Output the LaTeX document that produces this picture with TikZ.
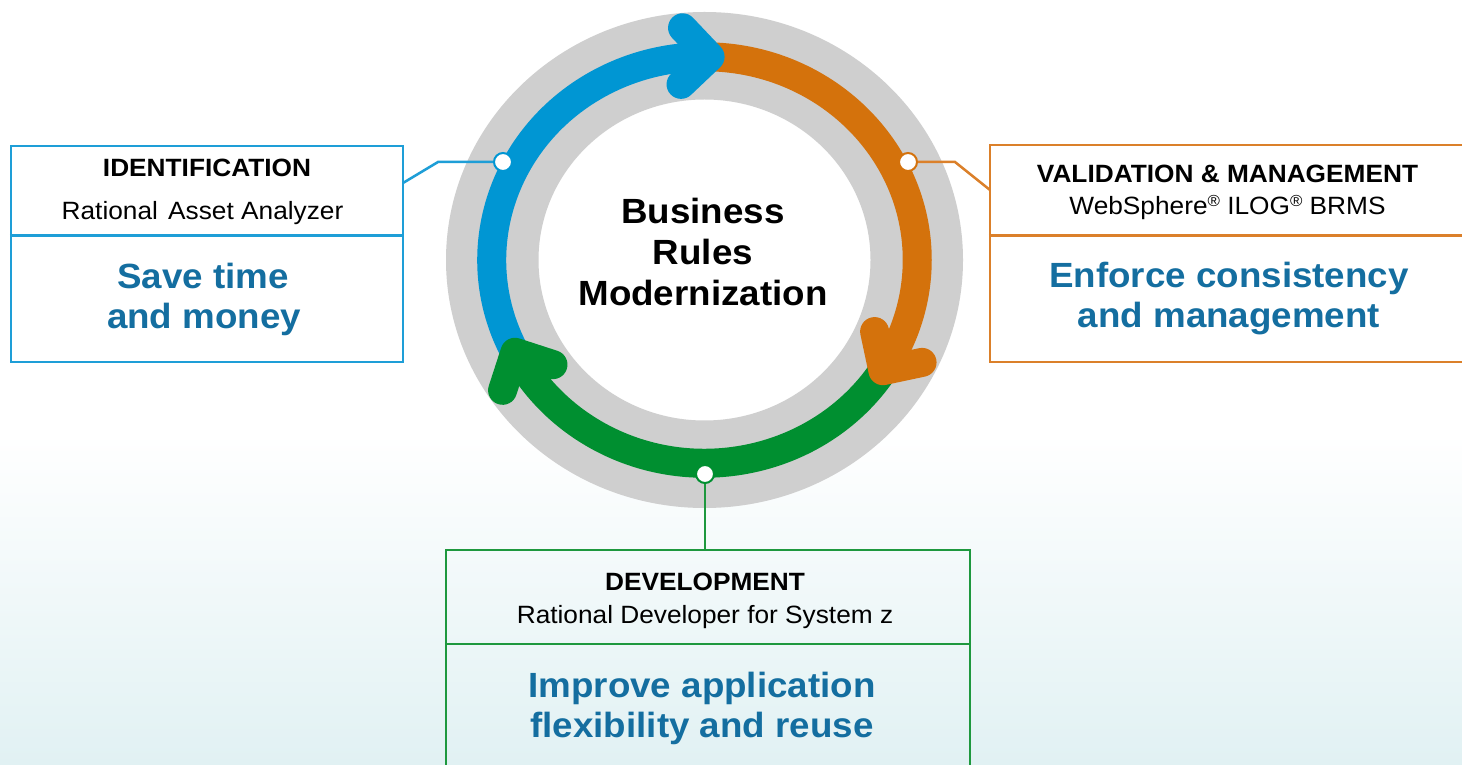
\documentclass[tikz,border=0pt]{standalone}
\usepackage{fontspec}
\setmainfont{Liberation Sans}[FakeStretch=1.05]
\usetikzlibrary{calc}
\definecolor{arcblue}{RGB}{0,150,211}
\definecolor{arcorange}{RGB}{212,114,12}
\definecolor{arcgreen}{RGB}{0,143,48}
\definecolor{ringgray}{RGB}{207,207,207}
\definecolor{txtblue}{RGB}{20,110,160}
\definecolor{lnblue}{RGB}{30,158,215}
\definecolor{lnorange}{RGB}{219,128,42}
\definecolor{lngreen}{RGB}{30,152,62}
\definecolor{bgcyan}{RGB}{225,241,243}
\newcommand\regmark{\raisebox{0.33em}{\fontsize{16}{16}\selectfont ®}}
\begin{document}
\begin{tikzpicture}[x=1pt,y=1pt,
  band/.style={line width=29pt},
  arrowhd/.style={line width=29pt, line cap=round, line join=round},
  dot/.style={circle, fill=white, draw, line width=2pt, minimum size=18pt, inner sep=0pt},
  conn/.style={line width=2.5pt},
  boxline/.style={line width=2.5pt},
  hd/.style={font=\fontsize{25}{30}\selectfont\bfseries, anchor=base, inner sep=0pt},
  subt/.style={font=\fontsize{25}{30}\selectfont, anchor=base, inner sep=0pt},
  big/.style={font=\fontsize{35}{41}\selectfont\bfseries, text=txtblue, anchor=base, inner sep=0pt},
  ctr/.style={font=\fontsize{35}{41}\selectfont\bfseries, anchor=base, inner sep=0pt},
  panel/.style={draw, boxline, inner sep=0pt}
]
\useasboundingbox (0,0) rectangle (1462,764);
% background
\fill[white] (0,0) rectangle (1462,764);
\shade[top color=white, bottom color=bgcyan] (0,0) rectangle (1462,330);

% ring
\coordinate (C) at (704.5,504);
\fill[ringgray, even odd rule] (C) ellipse[x radius=258.5, y radius=248] (C) ellipse[x radius=166, y radius=160.5];

% arc bodies
\draw[band, arcblue] (C) ++(207:212.75 and 203.25) arc[start angle=207, end angle=88.5, x radius=212.75, y radius=203.25];
\draw[band, arcorange] (C) ++(88.5:212.75 and 203.25) arc[start angle=88.5, end angle=-33, x radius=212.75, y radius=203.25];
\draw[band, arcgreen] (C) ++(-33:212.75 and 203.25) arc[start angle=-33, end angle=-153, x radius=212.75, y radius=203.25];

% arrow heads
\path (C) ++(88.5:212.75 and 203.25) coordinate (vb);
\path (C) ++(-33:212.75 and 203.25) coordinate (vo);
\path (C) ++(-153:212.75 and 203.25) coordinate (vg);
\draw[arrowhd, arcblue] ($(vb)+(133.5:40)$) -- (vb) -- ($(vb)+(223.5:40)$);
\draw[arrowhd, arcorange] ($(vo)+(12:40)$) -- (vo) -- ($(vo)+(102:40)$);
\draw[arrowhd, arcgreen] ($(vg)+(-108:40)$) -- (vg) -- ($(vg)+(-18:40)$);

% centre text
\node[ctr] (t1) at (703,540) {Business};
\node[ctr] (t2) at (703,499) {Rules};
\node[ctr] (t3) at (703,458) {Modernization};

% boxes
\node[panel, draw=lnblue, minimum width=392pt, minimum height=216pt] (idbox) at (207,510) {};
\node[panel, draw=lnorange, minimum width=480pt, minimum height=217pt] (vmbox) at (1230,510.5) {};
\node[panel, draw=lngreen, minimum width=524pt, minimum height=224pt] (dvbox) at (708,102) {};
\draw[boxline, lnblue] ($(idbox.north west)+(0,-91)$) -- ($(idbox.north east)+(0,-91)$);
\draw[boxline, lnorange] ($(vmbox.north west)+(0,-92)$) -- ($(vmbox.north east)+(0,-92)$);
\draw[boxline, lngreen] ($(dvbox.north west)+(0,-95)$) -- ($(dvbox.north east)+(0,-95)$);

% dots and connectors
\coordinate (bk) at (438,602);
\coordinate (bj) at (403,581);
\coordinate (ok) at (955,602);
\coordinate (oj) at (990,574);
\node[dot, draw=arcblue] (db) at (503,602) {};
\node[dot, draw=arcorange] (do) at (908,602) {};
\node[dot, draw=arcgreen] (dg) at (705,290) {};
\draw[conn, lnblue] (db) -- (bk) -- (bj);
\draw[conn, lnorange] (do) -- (ok) -- (oj);
\draw[conn, lngreen] (dg) -- (dvbox.north -| dg);

% left box text
\node[hd] (idh) at (207,587) {IDENTIFICATION};
\node[subt] (ids) at (202.5,544) {Rational\hspace{3pt} Asset Analyzer};
\node[big] (idb1) at (203,475) {Save time};
\node[big] (idb2) at (204,435) {and money};

% right box text
\node[hd] (vmh) at (1227.5,581) {VALIDATION \& MANAGEMENT};
\node[subt] (vms) at (1227.5,549) {WebSphere\regmark{} ILOG\regmark{} BRMS};
\node[big] (vmb1) at (1229,476) {Enforce consistency};
\node[big] (vmb2) at (1229,436) {and management};

% bottom box text
\node[hd] (dvh) at (705,174) {DEVELOPMENT};
\node[subt] (dvs) at (705,141) {Rational Developer for System z};
\node[big] (dvb1) at (702,67) {Improve application};
\node[big] (dvb2) at (702,27) {flexibility and reuse};
\end{tikzpicture}
\end{document}
